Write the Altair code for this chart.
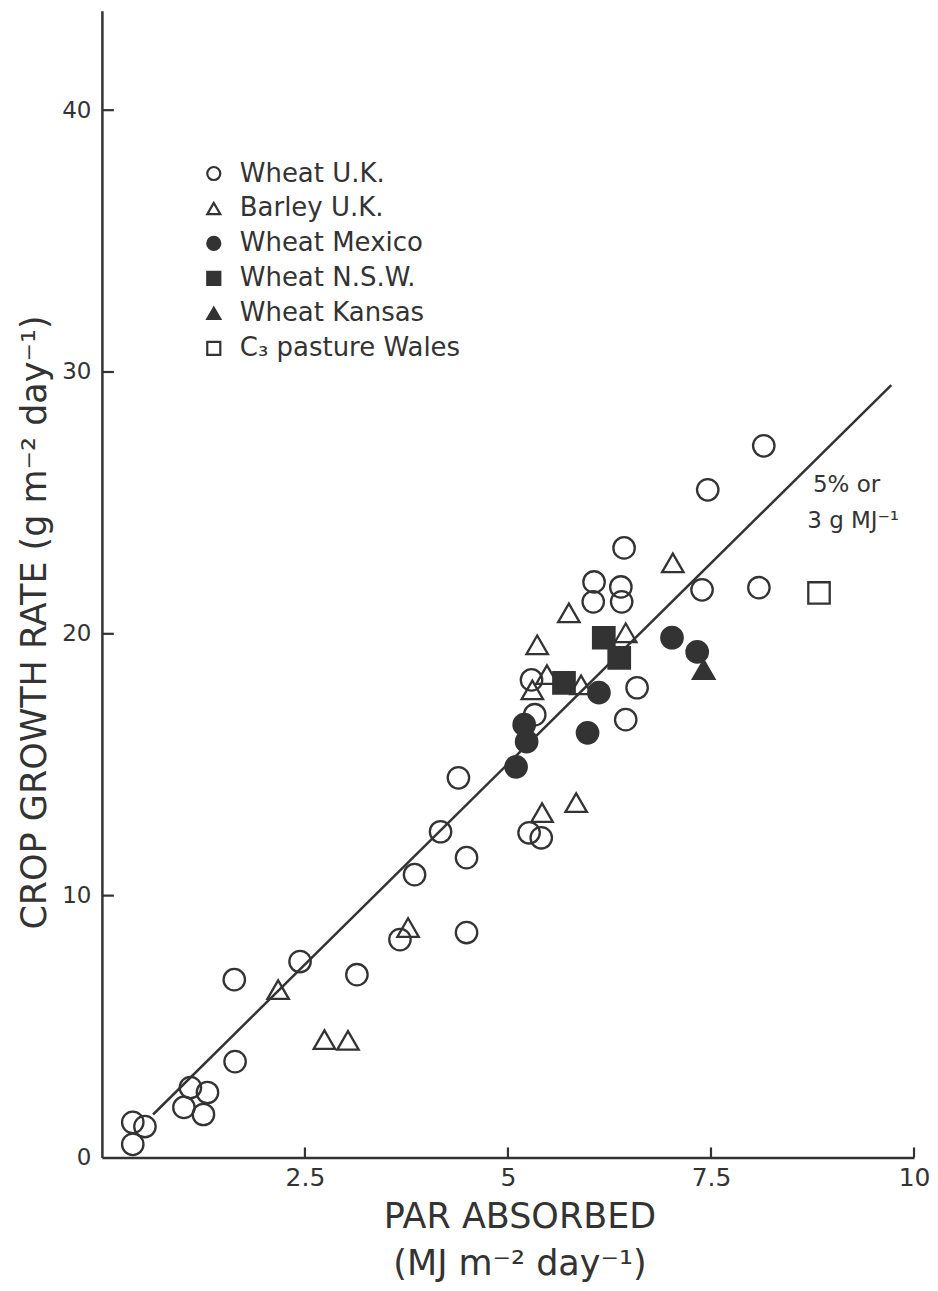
import altair as alt
import pandas as pd

INK = "#333333"
FONT = "DejaVu Sans"

series = ["Wheat U.K.", "Barley U.K.", "Wheat Mexico", "Wheat N.S.W.", "Wheat Kansas", "C₃ pasture Wales"]
shapes = ["circle", "triangle-up", "circle", "square", "triangle-up", "square"]
fills = ["transparent", "transparent", INK, INK, INK, "transparent"]
strokes = [INK] * 6

wheat_uk_x = [0.38, 0.38, 0.53, 1.01, 1.09, 1.30, 1.25, 1.64, 1.63, 2.44, 3.14, 3.67, 3.85, 4.17,
              4.39, 4.49, 4.49, 6.43, 6.06, 6.05, 6.39, 6.40, 7.39, 5.29, 5.33, 6.59, 6.45, 5.26,
              5.41, 8.15, 7.46, 8.09]
wheat_uk_y = [0.50, 1.34, 1.18, 1.91, 2.67, 2.48, 1.64, 3.66, 6.79, 7.48, 6.98, 8.32, 10.80, 12.44,
              14.50, 11.45, 8.59, 23.28, 21.98, 21.22, 21.79, 21.22, 21.68, 18.24, 16.91, 17.94, 16.72, 12.40,
              12.21, 27.18, 25.50, 21.76]
barley_uk_x = [2.17, 2.74, 3.03, 3.77, 7.03, 5.75, 5.36, 6.45, 5.48, 5.30, 5.90, 5.84, 5.42]
barley_uk_y = [6.41, 4.50, 4.47, 8.78, 22.71, 20.80, 19.58, 20.04, 18.44, 17.86, 18.05, 13.55, 13.17]
mexico_x = [5.10, 5.23, 5.20, 6.12, 5.98, 7.02, 7.33]
mexico_y = [14.92, 15.88, 16.53, 17.75, 16.22, 19.85, 19.31]
nsw_x = [5.69, 6.18, 6.37]
nsw_y = [18.13, 19.85, 19.08]
kansas_x = [7.41]
kansas_y = [18.63]
wales_x = [8.83]
wales_y = [21.56]

line_x = [0.63, 9.72]
line_y = [1.64, 29.5]

x_ticks = [2.5, 5, 7.5, 10]
y_ticks = [0, 10, 20, 30, 40]

note_lines = ["5% or", "3 g MJ⁻¹"]
note_x = [9.17, 9.25]
note_y = [25.7, 24.3]

rows = []
for name, xs, ys in zip(series,
                        [wheat_uk_x, barley_uk_x, mexico_x, nsw_x, kansas_x, wales_x],
                        [wheat_uk_y, barley_uk_y, mexico_y, nsw_y, kansas_y, wales_y]):
    for xv, yv in zip(xs, ys):
        rows.append({"series": name, "x": xv, "y": yv})
df = pd.DataFrame(rows)

W, H = 813, 1148
xscale = alt.Scale(domain=[0, 10], nice=False, zero=False)
yscale = alt.Scale(domain=[0, 43.8], nice=False, zero=False)

legend_kw = dict(title=None, orient="none", legendX=99, legendY=150,
                 labelFontSize=26, labelFont=FONT, labelColor=INK, labelLimit=0,
                 symbolSize=170, symbolStrokeWidth=2.2, symbolStrokeColor=INK,
                 rowPadding=9, labelOffset=13, padding=0)

points = alt.Chart(df).mark_point(size=460, strokeWidth=2.3, opacity=1, fillOpacity=1).encode(
    x=alt.X("x:Q", scale=xscale,
            axis=alt.Axis(values=x_ticks, format="~g", title=["PAR ABSORBED", "(MJ m⁻² day⁻¹)"],
                          titleX=418, titleY=42, titleBaseline="top", titleAlign="center",
                          titleLineHeight=47, labelPadding=8, labelFontSize=25, labelFlush=False)),
    y=alt.Y("y:Q", scale=yscale,
            axis=alt.Axis(values=y_ticks, format="~g", title="CROP GROWTH RATE (g m⁻² day⁻¹)",
                          titleAngle=270, titleX=-67, titleY=612, titleBaseline="middle",
                          titleAlign="center", labelPadding=11, labelFontSize=23, labelFlush=False)),
    shape=alt.Shape("series:N", scale=alt.Scale(domain=series, range=shapes), legend=alt.Legend(**legend_kw)),
    fill=alt.Fill("series:N", scale=alt.Scale(domain=series, range=fills), legend=alt.Legend(**legend_kw)),
    stroke=alt.Stroke("series:N", scale=alt.Scale(domain=series, range=strokes), legend=alt.Legend(**legend_kw)),
)

line = alt.Chart(pd.DataFrame({"x": line_x, "y": line_y})).mark_line(color=INK, strokeWidth=2.5).encode(
    x=alt.X("x:Q", scale=xscale), y=alt.Y("y:Q", scale=yscale))

note = alt.Chart(pd.DataFrame({"t": note_lines, "x": note_x, "y": note_y})).mark_text(
    font=FONT, fontSize=23, color=INK, align="center", baseline="middle").encode(
    x=alt.X("x:Q", scale=xscale), y=alt.Y("y:Q", scale=yscale), text="t:N")

yt = alt.Chart(pd.DataFrame({"v": y_ticks[1:]})).mark_rule(color=INK, strokeWidth=2.2).encode(
    y=alt.Y("v:Q", scale=yscale), x=alt.value(0), x2=alt.value(12))
xt = alt.Chart(pd.DataFrame({"v": x_ticks})).mark_rule(color=INK, strokeWidth=2.2).encode(
    x=alt.X("v:Q", scale=xscale), y=alt.value(H), y2=alt.value(H - 10))

chart = alt.layer(line, points, note, yt, xt).properties(
    width=W, height=H, padding={"left": 94, "top": 2, "right": 16, "bottom": 125},
    autosize=alt.AutoSizeParams(type="none"), background="white"
).configure_view(stroke=None).configure_axis(
    grid=False, ticks=False, domainColor=INK, domainWidth=2.5,
    labelFont=FONT, titleFont=FONT, labelColor=INK, titleColor=INK,
    titleFontSize=35, titleFontWeight="normal"
)

chart.save("out.html", embed_options={"renderer": "svg", "actions": False})
